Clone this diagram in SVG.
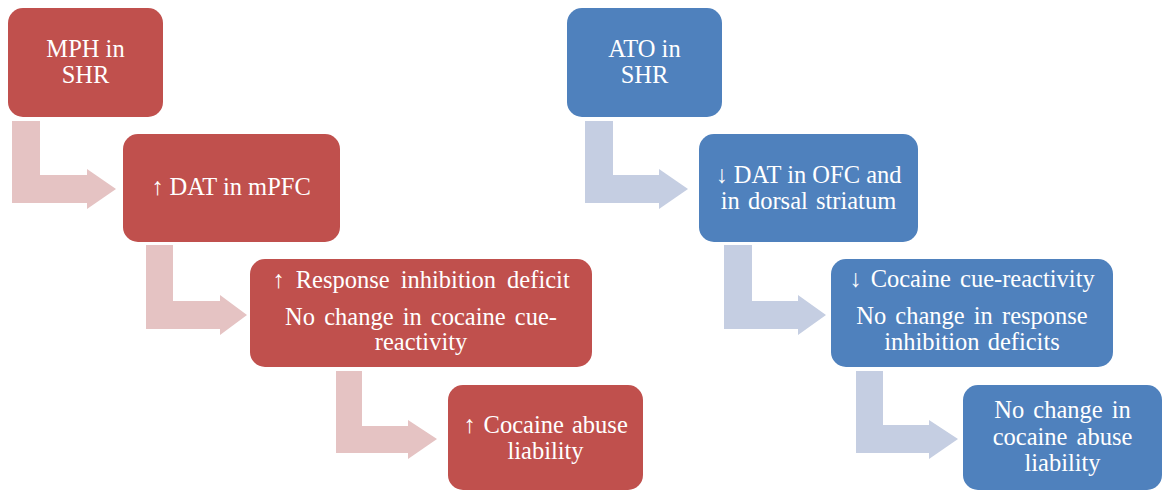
<svg xmlns="http://www.w3.org/2000/svg" width="1163" height="491" viewBox="0 0 1163 491">
<style>
.red{fill:#C0504D}
.blue{fill:#4F81BD}
.ra{fill:#E5C3C3}
.ba{fill:#C5CEE2}
text{font-family:"Liberation Serif","Times New Roman",serif;font-size:24.5px;fill:#FFFFFF;text-anchor:middle}
</style>
<rect width="1163" height="491" fill="#FFFFFF"/>
<g id="connectors">
<path class="ra" d="M12,121 H40 V175 H87 V169 L116,189 L87,209 V203 H12 Z"/>
<path class="ra" d="M146,245 H173 V301 H220 V295 L247,315 L220,335 V329 H146 Z"/>
<path class="ra" d="M336,371 H362 V426 H408 V420 L437,439 L408,459 V453 H336 Z"/>
<path class="ba" d="M585,121 H613 V175 H659 V169 L688,189 L659,209 V203 H585 Z"/>
<path class="ba" d="M724,245 H752 V301 H798 V295 L826,315 L798,335 V329 H724 Z"/>
<path class="ba" d="M856,371 H883 V425 H929 V420 L958,439 L929,459 V453 H856 Z"/>
</g>
<g id="red1">
<rect class="red" x="8" y="8" width="155" height="109" rx="15"/>
<text x="85.5" y="57">MPH in</text>
<text x="85.5" y="83">SHR</text>
</g>
<g id="red2">
<rect class="red" x="123" y="134" width="217" height="108" rx="15"/>
<text x="231" y="195">↑ DAT in mPFC</text>
</g>
<g id="red3">
<rect class="red" x="250" y="259" width="342" height="108" rx="15"/>
<text x="421" y="288" word-spacing="5">↑ Response inhibition deficit</text>
<text x="421" y="325" word-spacing="3">No change in cocaine cue-</text>
<text x="421" y="350">reactivity</text>
</g>
<g id="red4">
<rect class="red" x="448" y="385" width="195" height="105" rx="15"/>
<text x="545.5" y="433" word-spacing="2">↑ Cocaine abuse</text>
<text x="545.5" y="459">liability</text>
</g>
<g id="blue1">
<rect class="blue" x="567" y="8" width="155" height="109" rx="15"/>
<text x="644.5" y="57">ATO in</text>
<text x="644.5" y="83">SHR</text>
</g>
<g id="blue2">
<rect class="blue" x="699" y="134" width="219" height="108" rx="15"/>
<text x="808.5" y="183">↓ DAT in OFC and</text>
<text x="808.5" y="209" word-spacing="2">in dorsal striatum</text>
</g>
<g id="blue3">
<rect class="blue" x="831" y="259" width="282" height="108" rx="15"/>
<text x="972" y="287" word-spacing="3">↓ Cocaine cue-reactivity</text>
<text x="972" y="324" word-spacing="3">No change in response</text>
<text x="972" y="350" word-spacing="2">inhibition deficits</text>
</g>
<g id="blue4">
<rect class="blue" x="963" y="385" width="199" height="105" rx="15"/>
<text x="1062.5" y="418" word-spacing="3">No change in</text>
<text x="1062.5" y="445" word-spacing="3">cocaine abuse</text>
<text x="1062.5" y="471">liability</text>
</g>
</svg>
